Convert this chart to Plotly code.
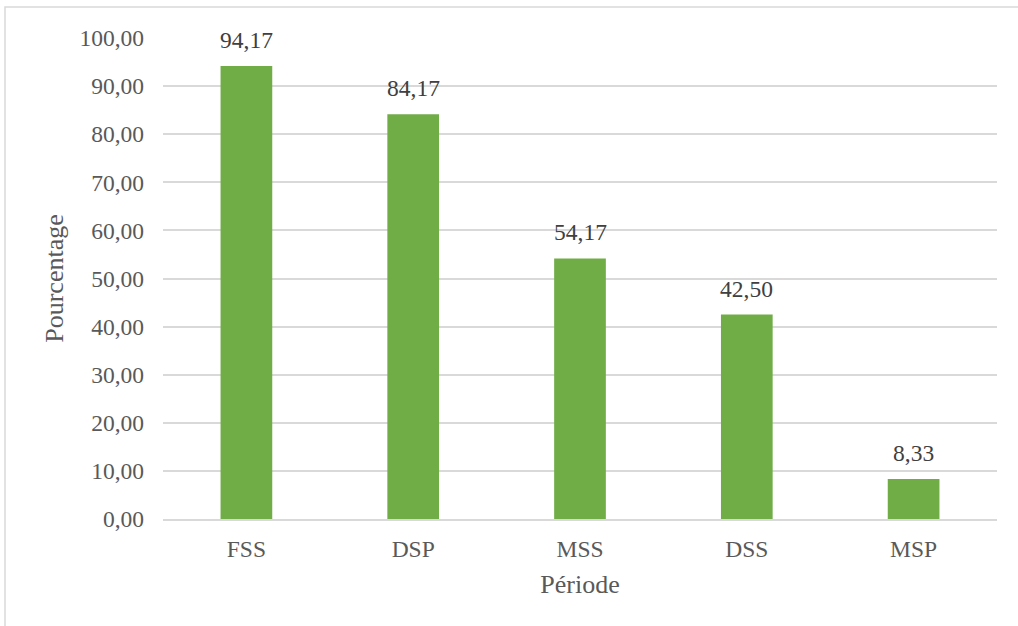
import plotly.graph_objects as go

categories = ["FSS", "DSP", "MSS", "DSS", "MSP"]
values = [94.17, 84.17, 54.17, 42.50, 8.33]
y_ticks = [0, 10, 20, 30, 40, 50, 60, 70, 80, 90, 100]

FONT = "Liberation Serif, Times New Roman, serif"
GREY = "#595959"

fig = go.Figure(go.Bar(
    x=categories, y=values,
    marker=dict(color="#70AD47", line=dict(width=0)),
    cliponaxis=False,
))

for c, v in zip(categories, values):
    fig.add_annotation(
        x=c, y=v, xref="x", yref="y",
        text=f"{v:.2f}".replace(".", ","),
        showarrow=False, yanchor="bottom", yshift=11,
        font=dict(family=FONT, size=23.5, color="#404040"),
    )

fig.update_layout(
    width=1018, height=626,
    margin=dict(l=163, r=21, t=38, b=107),
    paper_bgcolor="white", plot_bgcolor="white",
    separators=", ",
    bargap=0.69,
    showlegend=False,
    font=dict(family=FONT, color=GREY),
    xaxis=dict(
        showgrid=False, showline=True, linecolor="#d9d9d9", linewidth=2,
        tickfont=dict(family=FONT, size=23.5, color=GREY),
        ticklabelstandoff=8,
        title=dict(text="Période", font=dict(family=FONT, size=26, color=GREY), standoff=14),
    ),
    yaxis=dict(
        range=[0, 100], tickvals=y_ticks, tickformat=".2f",
        showgrid=True, gridcolor="#d9d9d9", gridwidth=1.5,
        zeroline=False, showline=False,
        tickfont=dict(family=FONT, size=23.5, color=GREY),
        ticklabelstandoff=18,
        title=dict(text="Pourcentage", font=dict(family=FONT, size=26, color=GREY), standoff=8),
    ),
    shapes=[dict(
        type="rect", xref="paper", yref="paper",
        x0=(5 - 163) / 834, x1=(1040 - 163) / 834,
        y0=(519 - 660) / 481, y1=(519 - 7) / 481,
        line=dict(color="#d9d9d9", width=1.5), fillcolor="rgba(0,0,0,0)", layer="below",
    )],
)

fig.write_html("out.html")
